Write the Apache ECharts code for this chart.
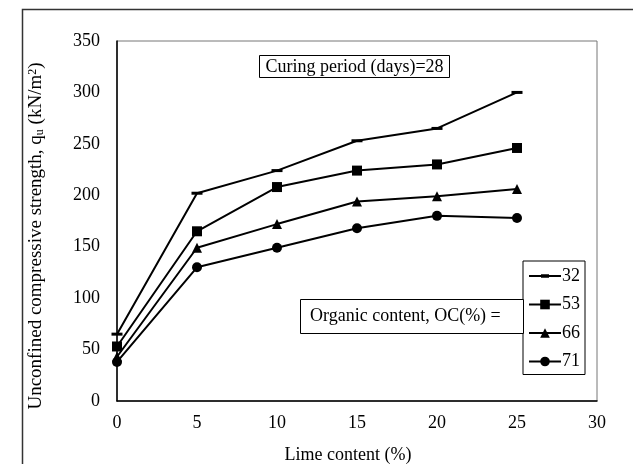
<!DOCTYPE html>
<html>
<head>
<meta charset="utf-8">
<script src="https://cdn.jsdelivr.net/npm/echarts@6/dist/echarts.min.js"></script>
<style>
html,body{margin:0;padding:0;background:#fff;}
#chart{width:633px;height:464px;}
</style>
</head>
<body>
<div id="chart"></div>
<script>
var lime = [0, 5, 10, 15, 20, 25];
var seriesNames = ['32', '53', '66', '71'];
var oc32 = [65, 202, 224, 253, 265, 300];
var oc53 = [53, 165, 208, 224, 230, 246];
var oc66 = [43, 149, 172, 194, 199, 206];
var oc71 = [38, 130, 149, 168, 180, 178];
var yTicks = [0, 50, 100, 150, 200, 250, 300, 350];
var xTicks = [0, 5, 10, 15, 20, 25, 30];

var FONT = '"Liberation Serif", "Times New Roman", serif';
var FS = 18;
var chart = echarts.init(document.getElementById('chart'));

function pairs(vals) { return lime.map(function (x, i) { return [x, vals[i]]; }); }
var allVals = [oc32, oc53, oc66, oc71];
var symbols = ['rect', 'rect', 'triangle', 'circle'];
var sizes = [[11, 3], 10, 10, 10];

var series = seriesNames.map(function (n, i) {
  return {
    name: n, type: 'line', data: pairs(allVals[i]),
    symbol: symbols[i], symbolSize: sizes[i],
    lineStyle: { color: '#000', width: 2 },
    itemStyle: { color: '#000' },
    animation: false
  };
});

var dashIcon = 'path://M16,0L16.01,0L16,0.01Z M0,5L32,5L32,7L0,7Z M12,4.3L20,4.3L20,7.7L12,7.7Z M16,12L16.01,12L16,11.99Z';

chart.setOption({
  animation: false,
  grid: { left: 117, right: 36, top: 41, bottom: 63, show: true, borderColor: '#777', borderWidth: 1,
          containLabel: false, outerBoundsMode: 'none' },
  xAxis: {
    type: 'value', min: 0, max: 30, interval: 5,
    name: 'Lime content (%)', nameLocation: 'middle', nameGap: 45,
    nameTextStyle: { fontFamily: FONT, fontSize: FS, color: '#000', padding: [0, 18, 0, 0] },
    axisLine: { show: true, lineStyle: { color: '#000', width: 1.5 } },
    axisTick: { show: false },
    splitLine: { show: false },
    axisLabel: { fontFamily: FONT, fontSize: FS, color: '#000', margin: 13,
      formatter: function (v) { return xTicks.indexOf(v) >= 0 ? String(v) : ''; } }
  },
  yAxis: {
    type: 'value', min: 0, max: 350, interval: 50,
    name: 'Unconfined compressive strength, q{sub|u} (kN/m{sup|2})',
    nameLocation: 'middle', nameGap: 71, nameRotate: 90,
    nameTextStyle: { fontFamily: FONT, fontSize: 19, color: '#000', padding: [0, 30, 0, 0],
      rich: { sub: { fontFamily: FONT, fontSize: 12, color: '#000', verticalAlign: 'bottom', padding: [7, 0, 0, 0] },
              sup: { fontFamily: FONT, fontSize: 12, color: '#000', verticalAlign: 'top', padding: [0, 0, 7, 0] } } },
    axisLine: { show: true, lineStyle: { color: '#000', width: 1.5 } },
    axisTick: { show: false },
    splitLine: { show: false },
    axisLabel: { fontFamily: FONT, fontSize: FS, color: '#000', margin: 17,
      formatter: function (v) { return yTicks.indexOf(v) >= 0 ? String(v) : ''; } }
  },
  legend: {
    orient: 'vertical', left: 523, top: 261,
    data: [{ name: '32', icon: dashIcon }, '53', '66', '71'],
    itemWidth: 32, itemHeight: 12, itemGap: 10.5,
    padding: [6, 5, 4, 5],
    borderColor: '#000', borderWidth: 1,
    textStyle: { fontFamily: FONT, fontSize: FS, color: '#000', padding: [0, 0, 0, -4], lineHeight: 17 },
    selectedMode: false
  },
  graphic: [
    { type: 'rect', left: 20, top: 7, shape: { width: 640, height: 500 }, style: { fill: 'none', stroke: '#333', lineWidth: 1.5 }, z: 0, silent: true },
    { type: 'rect', shape: { x: 259.5, y: 55.5, width: 190, height: 22 }, style: { fill: '#fff', stroke: '#000', lineWidth: 1 }, z: 10 },
    { type: 'text', x: 354.5, y: 67, style: { text: 'Curing period (days)=28', font: FS + 'px ' + FONT, fill: '#000', align: 'center', verticalAlign: 'middle' }, z: 11 },
    { type: 'rect', shape: { x: 300.5, y: 299.5, width: 223, height: 34 }, style: { fill: '#fff', stroke: '#000', lineWidth: 1 }, z: 10 },
    { type: 'text', x: 310, y: 316, style: { text: 'Organic content, OC(%) =', font: FS + 'px ' + FONT, fill: '#000', align: 'left', verticalAlign: 'middle' }, z: 11 }
  ],
  series: series
});
</script>
</body>
</html>
